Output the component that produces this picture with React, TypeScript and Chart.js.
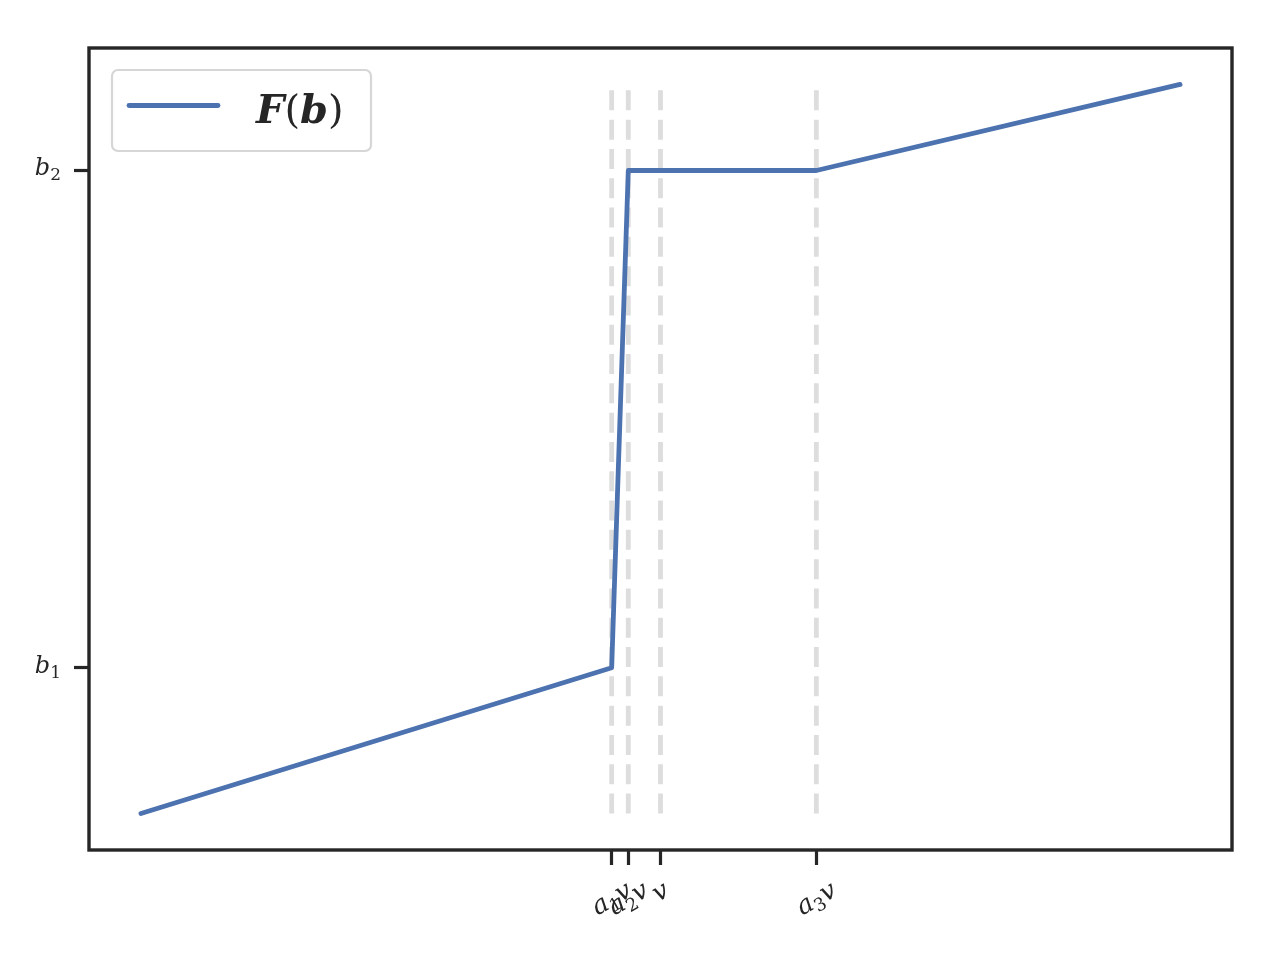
import React, { useEffect, useRef } from 'react';
import { Chart, registerables } from 'chart.js';

Chart.register(...registerables);

// ---- data ----
const lineX = [0, 0.453, 0.469, 0.65, 1];
const lineY = [0, 0.2, 0.882, 0.882, 1];
const seriesLabel = 'F(b)';
const guideX = [0.453, 0.469, 0.5, 0.65];
const guideY = [0, 1];
const xTickValues = [0.453, 0.469, 0.5, 0.65];
const xTickLabels = ['a_1v', 'a_2v', 'v', 'a_3v'];
const yTickValues = [0.2, 0.882];
const yTickLabels = ['b_1', 'b_2'];

const FONT = '"DejaVu Serif", "Liberation Serif", serif';

type Part = { t: string; sub: boolean };

function parseMath(s: string): Part[] {
  const parts: Part[] = [];
  for (let i = 0; i < s.length; i++) {
    if (s[i] === '_' && i + 1 < s.length) {
      parts.push({ t: s[i + 1], sub: true });
      i++;
    } else parts.push({ t: s[i], sub: false });
  }
  return parts;
}

function partFont(p: Part, size: number) {
  if (p.sub) return `${Math.round(size * 0.7)}px ${FONT}`;
  return `italic ${size}px ${FONT}`;
}

function measureMath(ctx: CanvasRenderingContext2D, parts: Part[], size: number) {
  let w = 0;
  for (const p of parts) {
    ctx.font = partFont(p, size);
    w += ctx.measureText(p.t).width;
  }
  return w;
}

function drawMath(ctx: CanvasRenderingContext2D, parts: Part[], x: number, y: number, size: number) {
  let cx = x;
  for (const p of parts) {
    ctx.font = partFont(p, size);
    ctx.fillText(p.t, cx, p.sub ? y + size * 0.2 : y);
    cx += ctx.measureText(p.t).width;
  }
}

const decorPlugin = {
  id: 'decor',
  afterDraw(chart: any) {
    const ctx: CanvasRenderingContext2D = chart.ctx;
    const area = chart.chartArea;
    const xs = chart.scales.x;
    const ys = chart.scales.y;
    ctx.save();
    // frame
    ctx.strokeStyle = '#262626';
    ctx.lineWidth = 3.4;
    ctx.strokeRect(area.left, area.top, area.right - area.left, area.bottom - area.top);

    ctx.fillStyle = '#262626';
    ctx.textBaseline = 'alphabetic';
    ctx.textAlign = 'left';

    // y tick labels
    const ysize = 24;
    yTickValues.forEach((v, i) => {
      const parts = parseMath(yTickLabels[i]);
      const w = measureMath(ctx, parts, ysize);
      const py = ys.getPixelForValue(v);
      drawMath(ctx, parts, area.left - 28 - w, py + 5, ysize);
    });

    // x tick labels rotated 30deg
    const size = 26;
    const ang = Math.PI / 6;
    xTickValues.forEach((v, i) => {
      const parts = parseMath(xTickLabels[i]);
      const w = measureMath(ctx, parts, size);
      const h = size * 1.0;
      const bh = w * Math.sin(ang) + h * Math.cos(ang);
      const px = xs.getPixelForValue(v);
      const cy = area.bottom + 27 + bh / 2;
      ctx.save();
      ctx.translate(px, cy);
      ctx.rotate(-ang);
      drawMath(ctx, parts, -w / 2, size * 0.3, size);
      ctx.restore();
    });

    // legend
    const lx = 112, ly = 70, lw = 259, lh = 81;
    ctx.beginPath();
    (ctx as any).roundRect(lx, ly, lw, lh, 6);
    ctx.fillStyle = 'rgba(255,255,255,0.8)';
    ctx.fill();
    ctx.strokeStyle = '#d6d6d6';
    ctx.lineWidth = 2.2;
    ctx.stroke();

    ctx.beginPath();
    ctx.moveTo(129, 105.5);
    ctx.lineTo(218, 105.5);
    ctx.strokeStyle = '#4c72b0';
    ctx.lineWidth = 4.8;
    ctx.lineCap = 'round';
    ctx.stroke();

    ctx.fillStyle = '#262626';
    const lsize = 40;
    let tx = 256;
    const ty = 123;
    for (const ch of seriesLabel) {
      const isParen = ch === '(' || ch === ')';
      ctx.font = `${isParen ? '' : 'italic bold '}${lsize}px ${FONT}`;
      ctx.fillText(ch, tx, ty);
      tx += ctx.measureText(ch).width;
    }
    ctx.restore();
  },
};

export default function App() {
  const ref = useRef<HTMLCanvasElement | null>(null);

  useEffect(() => {
    if (!ref.current) return;
    const guideSets = guideX.map((gx) => ({
      label: 'guide',
      data: guideY.map((gy) => ({ x: gx, y: gy })),
      borderColor: '#dddddd',
      borderWidth: 4.8,
      borderDash: [20, 9.3],
      borderCapStyle: 'butt' as const,
      pointRadius: 0,
      fill: false,
      order: 2,
    }));
    const chart = new Chart(ref.current, {
      type: 'line',
      data: {
        datasets: [
          ...guideSets,
          {
            label: seriesLabel,
            data: lineX.map((x, i) => ({ x, y: lineY[i] })),
            borderColor: '#4c72b0',
            borderWidth: 4.8,
            borderJoinStyle: 'round',
            borderCapStyle: 'round',
            pointRadius: 0,
            fill: false,
            tension: 0,
            order: 1,
          },
        ],
      },
      options: {
        animation: false,
        responsive: false,
        maintainAspectRatio: false,
        layout: { padding: { left: 0, top: 48, right: 48, bottom: 0 } },
        plugins: { legend: { display: false }, tooltip: { enabled: false } },
        scales: {
          x: {
            type: 'linear',
            min: -0.05,
            max: 1.05,
            afterBuildTicks: (s: any) => {
              s.ticks = xTickValues.map((v) => ({ value: v }));
            },
            afterFit: (s: any) => {
              s.height = 110;
            },
            ticks: { display: false, autoSkip: false },
            grid: {
              drawOnChartArea: false,
              drawTicks: true,
              tickLength: 15,
              tickWidth: 3.2,
              tickColor: '#262626',
            },
            border: { display: false },
          },
          y: {
            type: 'linear',
            min: -0.05,
            max: 1.05,
            afterBuildTicks: (s: any) => {
              s.ticks = yTickValues.map((v) => ({ value: v }));
            },
            afterFit: (s: any) => {
              s.width = 89;
            },
            ticks: { display: false, autoSkip: false },
            grid: {
              drawOnChartArea: false,
              drawTicks: true,
              tickLength: 15,
              tickWidth: 3.2,
              tickColor: '#262626',
            },
            border: { display: false },
          },
        },
      },
      plugins: [decorPlugin],
    } as any);
    return () => chart.destroy();
  }, []);

  return (
    <div style={{ position: 'fixed', left: 0, top: 0, width: 1280, height: 960, background: '#fff' }}>
      <canvas ref={ref} width={1280} height={960} style={{ display: 'block', width: 1280, height: 960 }} />
    </div>
  );
}
